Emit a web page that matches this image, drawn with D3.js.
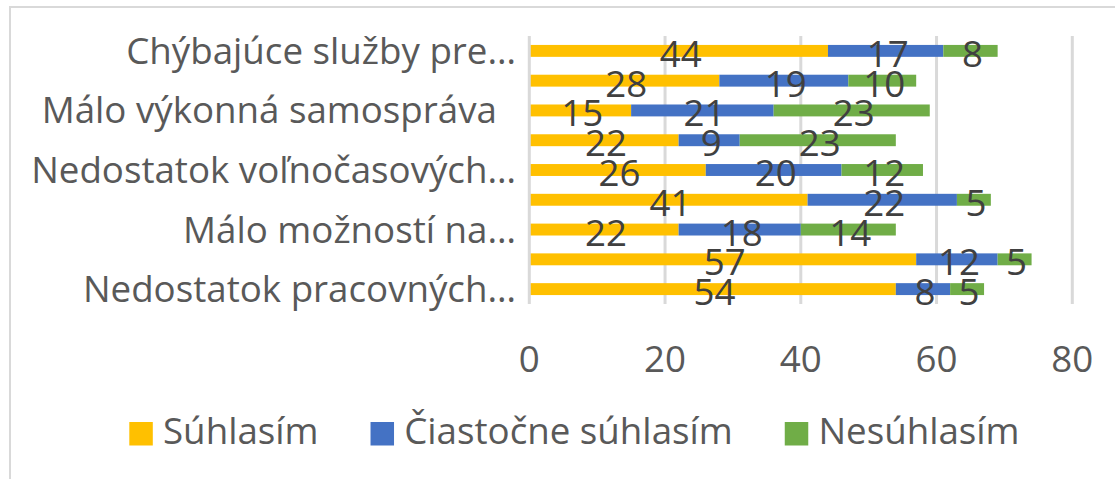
<!DOCTYPE html>
<html>
<head>
<meta charset="utf-8">
<script src="https://cdn.jsdelivr.net/npm/d3@7"></script>
<style>
  html, body { margin: 0; padding: 0; background: #fff; }
  svg { display: block; }
</style>
</head>
<body>
<svg id="chart" width="1115" height="479"></svg>
<script>
// ---- data ----
const categories = ["Chýbajúce služby pre…", "", "Málo výkonná samospráva\u00A0\u00A0", "", "Nedostatok voľnočasových…", "", "Málo možností na…", "", "Nedostatok pracovných…"];
const seriesNames = ["Súhlasím", "Čiastočne súhlasím", "Nesúhlasím"];
const suhlasim = [44, 28, 15, 22, 26, 41, 22, 57, 54];
const ciastocne = [17, 19, 21, 9, 20, 22, 18, 12, 8];
const nesuhlasim = [8, 10, 23, 23, 12, 5, 14, 5, 5];
const xTicks = [0, 20, 40, 60, 80];
const colors = ["#FFC000", "#4472C4", "#70AD47"];

// ---- layout ----
const FONT = "'Open Sans', 'Liberation Sans', sans-serif";
const FS = 36.5;
const svg = d3.select("#chart");

// frame
svg.append("rect").attr("x", 10).attr("y", 7).attr("width", 1130).attr("height", 500)
  .attr("fill", "#fff").attr("stroke", "#d9d9d9").attr("stroke-width", 2);

// measure horizontal compression to mimic narrow font
const probe = svg.append("text").attr("font-family", FONT).attr("font-size", FS)
  .text("Nedostatok voľnočasových…");
const probeW = probe.node().getComputedTextLength();
probe.remove();
const SX = 485 / probeW;

const x = d3.scaleLinear().domain([0, 80]).range([529.3, 1072.3]);
const idx = d3.range(categories.length);
const y = d3.scaleBand().domain(idx).range([36, 304]).paddingInner(0.6).paddingOuter(0.3);

const data = idx.map(i => ({ i, vals: [suhlasim[i], ciastocne[i], nesuhlasim[i]] }));
const stack = d3.stack().keys([0, 1, 2]).value((d, k) => d.vals[k]);
const stacked = stack(data);

function addText(g, tx, ty, str, anchor, color) {
  return g.append("text")
    .attr("transform", `translate(${tx},${ty}) scale(${SX},1)`)
    .attr("text-anchor", anchor)
    .attr("font-family", FONT).attr("font-size", FS)
    .attr("fill", color).text(str);
}

// gridlines
const grid = svg.append("g");
grid.selectAll("line").data(xTicks.filter(t => t > 0)).join("line")
  .attr("x1", d => x(d)).attr("x2", d => x(d))
  .attr("y1", 36).attr("y2", 304)
  .attr("stroke", "#d9d9d9").attr("stroke-width", 3);

// bars
const barG = svg.append("g");
stacked.forEach((layer, k) => {
  barG.append("g").attr("fill", colors[k])
    .selectAll("rect").data(layer).join("rect")
    .attr("x", d => x(d[0])).attr("width", d => x(d[1]) - x(d[0]))
    .attr("y", d => y(d.data.i)).attr("height", y.bandwidth());
});

// vertical axis line
svg.append("line").attr("x1", x(0)).attr("x2", x(0)).attr("y1", 36).attr("y2", 304)
  .attr("stroke", "#d9d9d9").attr("stroke-width", 3);

// data labels
const lab = svg.append("g");
stacked.forEach((layer, k) => {
  layer.forEach(d => {
    const cx = (x(d[0]) + x(d[1])) / 2 + 2;
    const cy = y(d.data.i) + y.bandwidth() / 2;
    addText(lab, cx, cy + 16, String(d.data.vals[k]), "middle", "#404040");
  });
});

// category labels
const catG = svg.append("g");
idx.forEach(i => {
  if (categories[i]) {
    addText(catG, 516, y(i) + y.bandwidth() / 2 + 13, categories[i], "end", "#595959")
      .attr("xml:space", "preserve").style("white-space", "pre");
  }
});

// x tick labels
const tickG = svg.append("g");
xTicks.forEach(t => addText(tickG, x(t), 371.7, String(t), "middle", "#595959"));

// legend
const legG = svg.append("g");
let lx = 129.3;
seriesNames.forEach((name, k) => {
  legG.append("rect").attr("x", lx).attr("y", 422).attr("width", 23.5).attr("height", 23.5)
    .attr("fill", colors[k]);
  const t = addText(legG, lx + 33.7, 444.3, name, "start", "#595959");
  const w = t.node().getComputedTextLength() * SX;
  lx = lx + 33.7 + w + 52;
});
</script>
</body>
</html>
